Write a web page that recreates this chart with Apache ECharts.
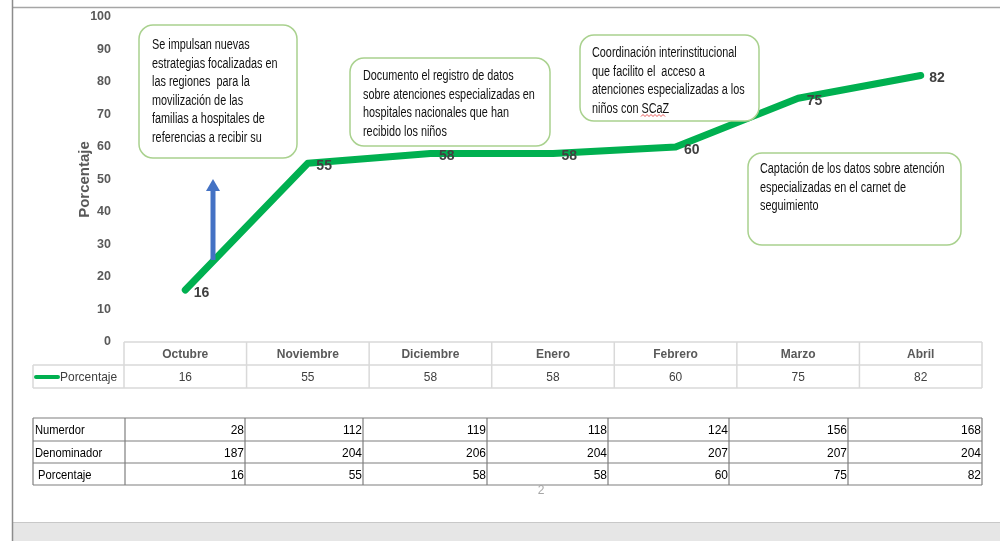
<!DOCTYPE html>
<html>
<head>
<meta charset="utf-8">
<script src="https://cdn.jsdelivr.net/npm/echarts@6/dist/echarts.min.js"></script>
<style>html,body{margin:0;padding:0;background:#fff}#c{width:1000px;height:541px}</style>
</head>
<body>
<div id="c"></div>
<script>
// ---- data ----
const categories = ['Octubre', 'Noviembre', 'Diciembre', 'Enero', 'Febrero', 'Marzo', 'Abril'];
const porcentaje = [16, 55, 58, 58, 60, 75, 82];
const seriesName = 'Porcentaje';
const yAxisTitle = 'Porcentaje';
const tableRowLabels = ['Numerdor', 'Denominador', ' Porcentaje'];
const numerador = [28, 112, 119, 118, 124, 156, 168];
const denominador = [187, 204, 206, 204, 207, 207, 204];
const porcentajeTabla = [16, 55, 58, 58, 60, 75, 82];
const callout1 = ['Se impulsan nuevas', 'estrategias focalizadas en', 'las regiones  para la', 'movilización de las', 'familias a hospitales de', 'referencias a recibir su'];
const callout2 = ['Documento el registro de datos', 'sobre atenciones especializadas en', 'hospitales nacionales que han', 'recibido los niños'];
const callout3 = ['Coordinación interinstitucional', 'que facilito el  acceso a', 'atenciones especializadas a los', 'niños con SCaZ'];
const callout4 = ['Captación de los datos sobre atención', 'especializadas en el carnet de', 'seguimiento'];
const pageNumber = '2';

// ---- layout ----
const FONT = "'Liberation Sans',Arial,sans-serif";
const G = {left: 124, right: 982, top: 17, bottom: 342};
const band = (G.right - G.left) / categories.length;
const gridLine = '#d9d9d9';

const chart = echarts.init(document.getElementById('c'), null, {renderer: 'canvas'});

const graphics = [];
function txt(x, y, text, size, fill, align, vAlign, sx, weight, extra) {
  const st = {text: text, font: (weight || 'normal') + ' ' + size + 'px ' + FONT, fill: fill, align: align, verticalAlign: vAlign};
  if (extra) Object.assign(st, extra);
  return {type: 'text', x: x, y: y, scaleX: sx, scaleY: 1, style: st, z: 21};
}
// page frame
graphics.push({type: 'line', shape: {x1: 12, y1: 7.5, x2: 1000, y2: 7.5}, style: {stroke: '#a6a6a6', lineWidth: 1.5}, z: 10});
graphics.push({type: 'rect', shape: {x: 12, y: 522, width: 988, height: 19}, style: {fill: '#e6e6e6', stroke: null}, z: 10});
graphics.push({type: 'line', shape: {x1: 12, y1: 522.5, x2: 1000, y2: 522.5}, style: {stroke: '#c8c8c8', lineWidth: 1}, z: 10});
graphics.push({type: 'line', shape: {x1: 12.5, y1: 0, x2: 12.5, y2: 541}, style: {stroke: '#8c8c8c', lineWidth: 1.5}, z: 11});

// data table under the chart (header row uses axis labels)
const rowTop = 342, rowMid = 365, rowBot = 388;
graphics.push({type: 'line', shape: {x1: G.left, y1: rowTop, x2: G.right, y2: rowTop}, style: {stroke: gridLine, lineWidth: 1.5}, z: 10});
graphics.push({type: 'line', shape: {x1: 33, y1: rowMid, x2: G.right, y2: rowMid}, style: {stroke: gridLine, lineWidth: 1.5}, z: 10});
graphics.push({type: 'line', shape: {x1: 33, y1: rowBot, x2: G.right, y2: rowBot}, style: {stroke: gridLine, lineWidth: 1.5}, z: 10});
graphics.push({type: 'line', shape: {x1: 33, y1: rowMid, x2: 33, y2: rowBot}, style: {stroke: gridLine, lineWidth: 1.5}, z: 10});
for (let i = 0; i <= categories.length; i++) {
  const x = G.left + i * band;
  graphics.push({type: 'line', shape: {x1: x, y1: rowTop, x2: x, y2: rowBot}, style: {stroke: gridLine, lineWidth: 1.5}, z: 10});
}
categories.forEach((c, i) => {
  graphics.push(txt(G.left + (i + 0.5) * band, (rowMid + rowBot) / 2 + 1, String(porcentaje[i]), 13, '#404040', 'center', 'middle', 0.92));
});
// legend key in table
graphics.push({type: 'line', shape: {x1: 36, y1: 377, x2: 58, y2: 377}, style: {stroke: '#00b050', lineWidth: 4, lineCap: 'round'}, z: 11});
graphics.push(txt(60, 377, seriesName, 13, '#404040', 'left', 'middle', 0.92));

// second (numeric) table
const colEdges = [33, 125, 245, 363, 487, 608, 729, 848, 982];
const rowEdges = [418, 441, 463, 485];
const tblStroke = '#7f7f7f';
rowEdges.forEach(y => graphics.push({type: 'line', shape: {x1: colEdges[0], y1: y, x2: colEdges[colEdges.length - 1], y2: y}, style: {stroke: tblStroke, lineWidth: 1.2}, z: 10}));
colEdges.forEach(x => graphics.push({type: 'line', shape: {x1: x, y1: rowEdges[0], x2: x, y2: rowEdges[3]}, style: {stroke: tblStroke, lineWidth: 1.2}, z: 10}));
const tableData = [numerador, denominador, porcentajeTabla];
tableRowLabels.forEach((lab, r) => {
  const cy = (rowEdges[r] + rowEdges[r + 1]) / 2 + 1;
  graphics.push(txt(colEdges[0] + 2, cy, lab, 13, '#000', 'left', 'middle', 0.86));
  tableData[r].forEach((v, i) => {
    graphics.push(txt(colEdges[i + 2] - 1, cy, String(v), 13, '#000', 'right', 'middle', 0.92));
  });
});
graphics.push(txt(541, 491, pageNumber, 12, '#a6a6a6', 'center', 'middle', 1));

// callouts
function callout(x, y, w, h, lines, tx, ty) {
  graphics.push({type: 'rect', shape: {x: x, y: y, width: w, height: h, r: 14}, style: {fill: '#fff', stroke: '#a9d18e', lineWidth: 1.5}, z: 20});
  graphics.push(txt(tx, ty, lines.join('\n'), 14, '#111', 'left', 'top', 0.775, 'normal', {lineHeight: 18.5}));
}
callout(139, 25, 158, 133, callout1, 152, 36);
callout(350, 58, 200, 88, callout2, 363, 67);
callout(580, 35, 179, 86, callout3, 592, 44);
callout(748, 153, 213, 92, callout4, 760, 160);
// red squiggle under SCaZ
const sq = [];
for (let k = 0; k <= 12; k++) sq.push([641 + k * 2, k % 2 ? 114.5 : 116.5]);
graphics.push({type: 'polyline', shape: {points: sq}, style: {stroke: '#e03030', lineWidth: 0.8, fill: null}, z: 22});

// blue arrow
graphics.push({type: 'rect', shape: {x: 210.5, y: 190, width: 5, height: 70}, style: {fill: '#4472c4'}, z: 15});
graphics.push({type: 'polygon', shape: {points: [[206, 191], [213, 179], [220, 191]]}, style: {fill: '#4472c4'}, z: 15});

chart.setOption({
  animation: false,
  textStyle: {fontFamily: FONT},
  grid: {left: G.left, right: 1000 - G.right, top: G.top, bottom: 541 - G.bottom, containLabel: false},
  xAxis: {
    type: 'category', data: categories, boundaryGap: true,
    axisLine: {show: false}, axisTick: {show: false}, splitLine: {show: false},
    axisLabel: {fontSize: 12, fontWeight: 'bold', color: '#595959', margin: 7, fontFamily: FONT}
  },
  yAxis: {
    type: 'value', min: 0, max: 100, interval: 10,
    name: yAxisTitle, nameLocation: 'middle', nameRotate: 90, nameGap: 32, nameMoveOverlap: false,
    nameTextStyle: {fontSize: 15, fontWeight: 'bold', color: '#595959', fontFamily: FONT},
    axisLine: {show: false}, axisTick: {show: false}, splitLine: {show: false},
    axisLabel: {fontSize: 12.5, fontWeight: 'bold', color: '#595959', margin: 13, fontFamily: FONT}
  },
  series: [{
    name: seriesName, type: 'line', data: porcentaje,
    showSymbol: true, symbol: 'circle', symbolSize: 1,
    lineStyle: {color: '#00b050', width: 7, cap: 'round', join: 'round'},
    itemStyle: {color: 'rgba(0,0,0,0)'},
    label: {show: true, position: 'right', distance: 8, offset: [0, 3], fontSize: 14, fontWeight: 'bold', color: '#404040', fontFamily: FONT},
    z: 5
  }],
  graphic: {elements: graphics}
});
</script>
</body>
</html>
